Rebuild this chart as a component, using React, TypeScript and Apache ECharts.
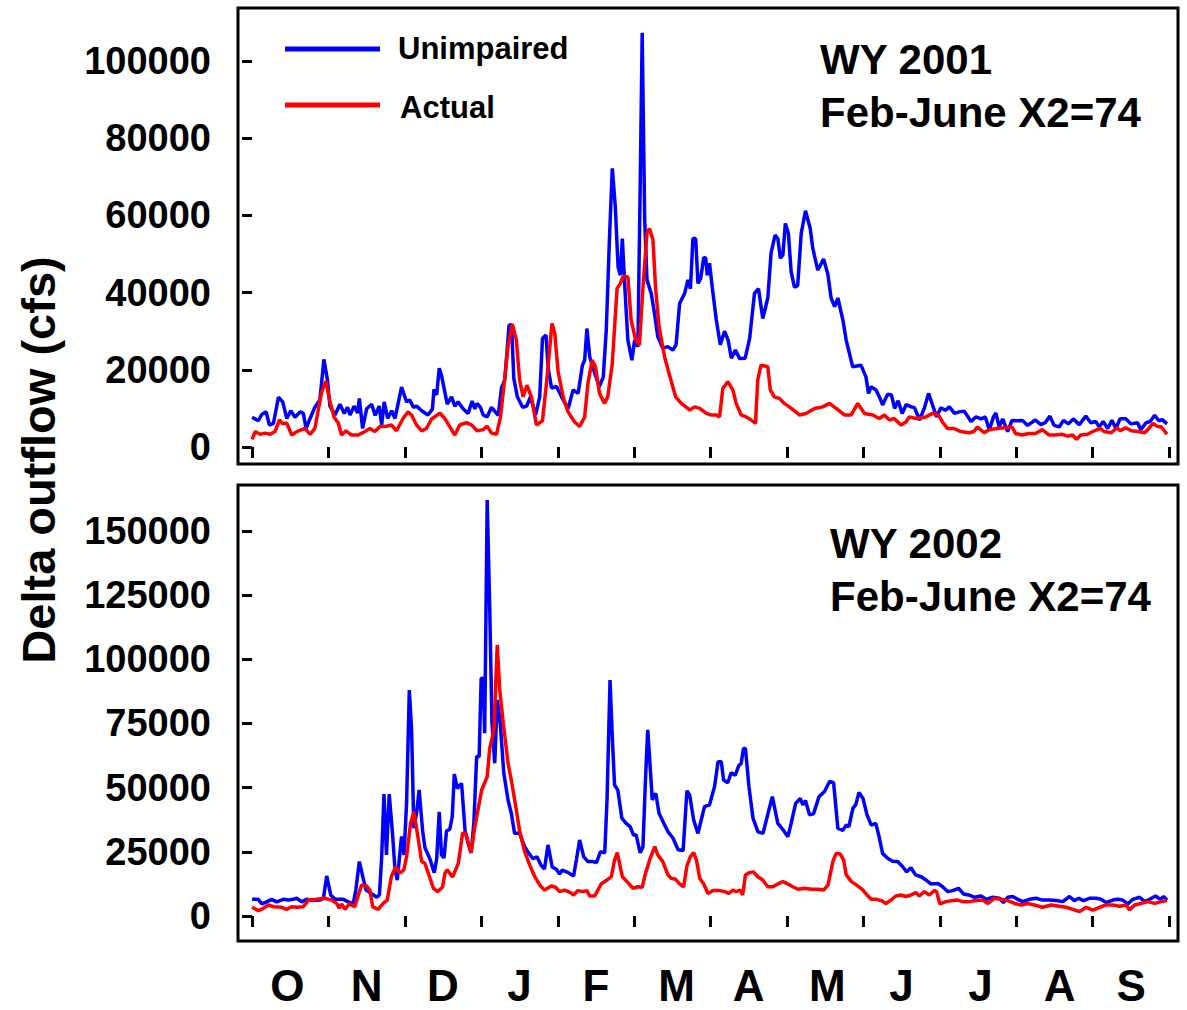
import React, { useEffect, useRef } from 'react';
import * as echarts from 'echarts';

// day of water year (0 = Oct 1) and delta outflow (cfs)
const unimpaired2001: [number, number][] = [
  [0, 7700], [2.5, 6800], [3.9, 8500], [5.6, 9100], [6.9, 5700], [8.5, 6100], [10.5, 12900], [12.2, 11700],
  [13.8, 7400], [15.4, 9400], [17.1, 7700], [19.1, 9100], [20.4, 8700], [21.5, 4800], [23.1, 7400], [25, 10300],
  [27, 12200], [28.6, 22700], [30, 17400], [31, 10600], [33, 8300], [35, 11100], [36.7, 8700], [38, 10300],
  [39, 8300], [40.6, 10600], [42, 8800], [42.7, 12600], [44, 4800], [45.6, 9900], [47.6, 11100], [49, 8200],
  [50.6, 10600], [51.6, 5700], [52.6, 11700], [54, 7400], [55.6, 9400], [56.9, 7400], [59.5, 15500], [61.5, 11700],
  [62.8, 12200], [64.2, 10300], [65.5, 10600], [67.5, 9400], [70, 8300], [71.8, 9800], [72.4, 14900], [73.5, 13500],
  [74.5, 20400], [75.4, 18600], [77.7, 11100], [79.4, 13000], [80.7, 10600], [82, 11700], [84, 9900], [86, 8700],
  [87.6, 11900], [88.7, 9900], [89.6, 11300], [90.9, 10300], [92, 8300], [93.6, 7800], [95.3, 10300], [98, 8200],
  [99.3, 15300], [100.6, 17400], [102.3, 31600], [103.3, 31600], [104.2, 17800], [105.6, 13000], [107.7, 10300],
  [109.3, 10600], [110.8, 13000], [112.9, 8300], [114.5, 13000], [115.6, 28100], [117, 29000], [117.9, 20400],
  [119.2, 15300], [121.2, 15700], [123.2, 13000], [125.8, 9900], [127.8, 14800], [129.8, 13900], [131.5, 21200],
  [132.4, 22500], [133.3, 30700], [134.4, 23400], [136.4, 19100], [138.2, 15600], [139.8, 18100], [141, 30300],
  [142.3, 54500], [143.4, 72200], [144.6, 62200], [145.7, 46700], [146.6, 44500], [147.4, 54000], [148.3, 42400],
  [149.6, 27700], [151.2, 22500], [152.3, 27700], [153.6, 26000], [154.5, 67400], [155.3, 107300], [156.3, 58800],
  [157.2, 43300], [158.9, 39800], [160.2, 34600], [161.5, 28600], [163.5, 25600], [165.5, 26000], [167.5, 25100],
  [168.8, 26500], [170.2, 37200], [172.2, 39800], [173.5, 43300], [174.5, 41000], [175.5, 54000], [176.6, 54000],
  [177.5, 42400], [178.6, 43700], [179.8, 49100], [180.6, 48900], [181.2, 44500], [182.1, 47600], [183.2, 41400],
  [184.8, 32900], [186.4, 26500], [188.1, 30000], [189.5, 27700], [190.8, 23000], [192.4, 25100], [194.1, 22900],
  [196.3, 23000], [198.1, 28200], [200, 39800], [201.6, 41000], [203.3, 33300], [205.3, 38600], [206.6, 50200],
  [208.2, 54900], [209.3, 54000], [210.3, 48900], [211.3, 49700], [212.3, 57900], [213.5, 55300], [214.6, 45400],
  [215.9, 41400], [217.2, 41800], [218.6, 55300], [220.3, 61200], [222.2, 56600], [223.2, 51500], [225.2, 45800],
  [227.5, 48700], [229.2, 44800], [230.5, 38600], [231.9, 36400], [233.2, 38600], [235.2, 32900], [236.5, 27700],
  [239.1, 20800], [242.4, 21200], [244.4, 18100], [245.4, 13900], [246.4, 15600], [248.4, 14800], [250, 12600],
  [251, 10900], [253, 13700], [254.5, 13500], [255.8, 10000], [257.2, 12000], [258.8, 8700], [260.4, 11000],
  [262.4, 10400], [263.7, 10200], [265.7, 7000], [267.7, 10200], [269.3, 13900], [270.6, 11400], [272.5, 7800],
  [274.2, 10200], [276, 9500], [277.6, 10400], [279.6, 8700], [281.5, 9100], [283.5, 9300], [286.2, 6600],
  [288.2, 7800], [290.2, 7300], [291.9, 7800], [293.5, 4400], [295.1, 7800], [296.1, 8800], [297.4, 5200],
  [298.8, 7300], [300.8, 4000], [302.5, 6900], [304.7, 6800], [306.7, 6900], [308.7, 5600], [311.8, 7000],
  [314, 5800], [315.7, 6300], [317.6, 8000], [319.3, 5600], [321.3, 5200], [323, 6900], [325, 6000], [326.9, 7300],
  [329.3, 5800], [331.9, 8000], [333.9, 6300], [335.9, 6600], [337.2, 5200], [338.8, 6600], [340.6, 4800],
  [342.3, 6900], [343.9, 4800], [345.5, 7300], [347.9, 7300], [349.8, 6000], [352.5, 6300], [353.8, 4500],
  [355.9, 6300], [357.5, 6600], [359.3, 8200], [361, 6800], [362.3, 7100], [364.2, 6000],
];

const actual2001: [number, number][] = [
  [0, 2000], [1.2, 4000], [3.2, 3300], [5.2, 3600], [7.2, 3300], [9.1, 4000], [10.9, 7000], [12.2, 6000],
  [13.8, 6200], [15.8, 3100], [17.8, 4000], [19.8, 4500], [21.1, 4800], [23.1, 3300], [25, 4800], [26.3, 9400],
  [27.7, 14200], [29.4, 17100], [30.7, 12600], [32.6, 7800], [34.3, 6200], [35.6, 3100], [37.4, 4200], [39.6, 3100],
  [42.2, 3100], [44.9, 4000], [46.9, 4800], [48.9, 4000], [50.9, 5300], [53.5, 5400], [55.5, 5700], [57.5, 4200],
  [60.1, 7400], [62.1, 9100], [63.5, 8300], [65.5, 5700], [67.5, 4200], [69.4, 4800], [71.4, 7200], [74.7, 8800],
  [76.7, 7400], [78.7, 5300], [80.7, 3100], [82.7, 5700], [85.4, 6300], [87.4, 5700], [89.6, 4200], [92, 4500],
  [93.6, 5400], [95.3, 3600], [97.3, 3300], [98.9, 7800], [100.2, 15500], [101.9, 26000], [103.6, 31900],
  [105.2, 27700], [106.5, 17400], [107.9, 13000], [109.4, 16000], [111.2, 13000], [113.2, 5700], [115.6, 6800],
  [117.2, 16500], [119.4, 32000], [120.5, 29500], [121.8, 19700], [123.8, 13000], [125.8, 9100], [128.4, 6500],
  [130.4, 5300], [132.4, 7800], [133.7, 16500], [135.4, 22500], [136.7, 20800], [138.3, 13900], [140.3, 11300],
  [141.6, 13000], [143.4, 21700], [145.3, 41100], [146.6, 42400], [147.6, 44100], [149.6, 44100], [150.9, 32900],
  [152.7, 27700], [154.2, 26400], [155.8, 43300], [157.2, 55300], [158.2, 56600], [159.6, 53600], [160.6, 41500],
  [162, 31200], [164.2, 23400], [166.2, 18600], [168.6, 13000], [170.9, 11300], [174.2, 9600], [176.2, 10400],
  [178.2, 10000], [180.8, 8700], [182.8, 8300], [184.8, 8300], [186.1, 7800], [187.4, 15200], [189.4, 16900],
  [191.4, 14800], [192.7, 11300], [194.7, 8300], [196.7, 7800], [198.7, 7000], [200.4, 6100], [201.3, 17400],
  [202.6, 21200], [205.3, 20800], [206.3, 14800], [207.9, 13000], [209.9, 12600], [211.9, 11300], [213.9, 10400],
  [217.9, 8300], [220.5, 8700], [223.9, 10000], [227.2, 10400], [229.8, 11300], [232.5, 10000], [235.8, 8300],
  [238.5, 8300], [241.1, 11300], [243.8, 8700], [247.1, 8300], [249.7, 7400], [251.7, 8300], [253.7, 7000],
  [255.6, 7400], [258.3, 5700], [260.3, 6500], [261.6, 7800], [264.3, 7400], [266.2, 7600], [268.2, 7800],
  [270.9, 8700], [273.2, 8300], [274.8, 6500], [276.8, 4800], [279.4, 4800], [282.1, 4000], [285.4, 3700],
  [287.4, 4000], [288.7, 5200], [291.4, 3700], [293.4, 4500], [296.7, 4800], [299.3, 5000], [302.6, 5200],
  [303.9, 3500], [306.6, 3100], [309.3, 3500], [311.9, 3500], [314.6, 4500], [317.3, 3100], [319.9, 3100],
  [322.6, 3300], [324.6, 2800], [326.6, 3100], [328.2, 2000], [329.9, 3100], [332.6, 3300], [335.3, 4200],
  [337.6, 4800], [339.3, 4000], [342, 3700], [344.3, 5000], [345.6, 4200], [347.7, 5000], [350, 4200],
  [352.6, 4000], [355.3, 3700], [356.6, 4500], [358.6, 6100], [360.2, 5400], [362, 5200], [364.2, 3300],
];

const unimpaired2002: [number, number][] = [
  [0, 6500], [2.5, 6500], [3.9, 4700], [5.8, 5500], [7.8, 6500], [9.8, 5500], [12.5, 6500], [14.5, 6200],
  [16.4, 6500], [17.8, 6900], [19.8, 5500], [21.7, 6500], [24.4, 6000], [27, 6200], [28.4, 6900], [29.7, 15600],
  [31.3, 8200], [33, 6500], [36.3, 6500], [38.3, 5500], [40.3, 4900], [41.3, 10100], [42.7, 21200], [44, 15600],
  [45.4, 10100], [47.6, 8700], [49.6, 7300], [50.7, 8200], [51.6, 23100], [52.5, 47500], [53.5, 23800],
  [54.6, 47500], [55.9, 32200], [56.9, 18100], [57.8, 14000], [59.5, 31000], [60.5, 23800], [61.5, 43900],
  [62.6, 88000], [63.5, 72500], [64.4, 34200], [65.5, 40200], [66.5, 49100], [67.9, 33100], [68.8, 26700],
  [70.8, 22200], [72.5, 16900], [73.5, 22200], [74.5, 40600], [75.4, 23800], [76.4, 22600], [77.4, 33100],
  [78.7, 33800], [79.7, 38700], [80.5, 55300], [81.7, 49700], [83.4, 51700], [84.8, 33100], [86.1, 27900],
  [87.2, 24600], [88.3, 36300], [89.4, 62100], [90.4, 62100], [91.2, 92600], [92, 92600], [92.6, 71200],
  [93.6, 162100], [94.6, 120500], [95.5, 75100], [96.6, 59500], [97.6, 84200], [98.8, 75100], [100.2, 55700],
  [101.9, 45200], [103.2, 40000], [104.5, 32200], [106.5, 32200], [108.5, 27000], [110.2, 24400], [111.8, 22300],
  [113.4, 23100], [115.1, 19700], [116.4, 18300], [117.8, 27700], [119.5, 19000], [121.1, 18300], [122.4, 16300],
  [123.4, 17900], [125.7, 17000], [128, 15600], [129.1, 21800], [130.4, 29600], [132, 23100], [133.7, 21200],
  [135.7, 21200], [137.1, 20800], [138.7, 25100], [140.4, 24600], [141.3, 45200], [142.5, 91900], [143.4, 69900],
  [144.3, 51000], [145.6, 49100], [147.2, 38100], [148.9, 36100], [150.5, 34800], [151.8, 31600], [152.9, 31600],
  [154.5, 24600], [155.6, 26900], [156.6, 53000], [157.5, 72500], [158.3, 60800], [159.3, 45200], [160.7, 47800],
  [162, 40000], [163.9, 36100], [165.6, 32800], [167.6, 30300], [169.6, 25800], [171.6, 25500], [173.1, 48800],
  [174.2, 47100], [175.8, 37400], [177.5, 32200], [178.8, 37400], [180.1, 42600], [182.1, 43300], [184.1, 50400],
  [185.5, 60100], [186.8, 60100], [187.7, 53000], [189.4, 51900], [190.7, 55800], [192.3, 54800], [193.8, 58700],
  [194.7, 59400], [195.6, 65300], [196.4, 65300], [197.8, 50400], [199.4, 38100], [201.4, 32800], [203.4, 32200],
  [205.4, 40000], [207.1, 46500], [209.3, 36100], [211.3, 33700], [213.3, 30900], [214.6, 36100], [216.4, 43900],
  [218.2, 45800], [219.3, 43300], [220.3, 45000], [221.9, 39400], [223.5, 39800], [225.7, 46500], [227.9, 48500],
  [229.9, 52400], [231.5, 51900], [233.2, 34100], [235.2, 33400], [236.5, 35400], [237.6, 34800], [239.2, 42000],
  [240.3, 43300], [241.6, 48100], [243.2, 45800], [244.8, 39400], [246.5, 35400], [248.3, 36100], [249.6, 30900],
  [251, 24400], [253, 22500], [255, 21300], [257, 21200], [259, 19200], [260.6, 17200], [262.3, 18800],
  [264.1, 16000], [266.3, 15300], [268.3, 14000], [270.3, 12500], [273, 12700], [274.9, 11400], [276.9, 9500],
  [278.9, 9900], [281.2, 10800], [283.2, 8600], [285.3, 8200], [287.6, 7300], [290.2, 7800], [292.2, 6500],
  [294.9, 7300], [297.5, 6900], [299.1, 5200], [300.8, 7300], [302.8, 7600], [304.8, 6500], [306.8, 5600],
  [309.4, 6500], [312.1, 6900], [314.7, 6200], [317.4, 6200], [320.1, 6000], [322.7, 5600], [325.4, 7600],
  [327.3, 6000], [329.1, 6900], [330.9, 6000], [333.3, 6900], [336, 6900], [338, 6500], [340, 5200], [342.6, 6200],
  [344.6, 6500], [346.6, 6200], [348.6, 4700], [350.6, 6500], [353.3, 7300], [355.3, 5600], [357.3, 6500],
  [359.7, 7800], [361.5, 6500], [362.9, 7600], [364.2, 6200],
];

const actual2002: [number, number][] = [
  [0, 3400], [2.5, 2100], [4.5, 3000], [6.5, 4300], [8.5, 3600], [11.8, 3400], [13.8, 2600], [15.8, 3600],
  [17.8, 3400], [20.4, 3600], [22.4, 6200], [25.7, 6500], [29, 6900], [31.7, 6200], [33.7, 4900], [34.7, 3000],
  [35.6, 4700], [37, 2600], [38.7, 4700], [40.9, 3600], [41.9, 6900], [43.6, 12100], [45.6, 11700], [46.9, 10100],
  [48, 3600], [50.2, 2600], [52.2, 4900], [53.8, 6200], [55.5, 15600], [57.2, 19200], [58.8, 16700], [60.4, 18000],
  [61.5, 23100], [63.1, 36100], [64.4, 40600], [65.8, 32200], [67.5, 21200], [68.8, 20500], [70.6, 15400],
  [72.2, 10800], [73.8, 9500], [75.8, 11200], [76.8, 16700], [77.7, 18000], [79.8, 15200], [82.1, 20500],
  [83.8, 32200], [85.1, 32200], [87.2, 24600], [88.7, 34800], [91.4, 49100], [93.6, 54300], [94.6, 65300],
  [96.3, 72500], [97.6, 105600], [98.6, 88000], [100, 75100], [101.9, 59500], [103.2, 53000], [105.2, 41300],
  [106.5, 33100], [108.5, 25200], [110.5, 19900], [112.5, 15400], [114.5, 12100], [116.4, 10100], [119.1, 11700],
  [120.8, 11200], [122.4, 9500], [124.4, 10100], [126.4, 9300], [128, 8200], [129.7, 9900], [131.7, 9500],
  [133.3, 9900], [134.4, 7800], [136.4, 7800], [139, 12500], [141, 13800], [143, 15300], [144.3, 21800],
  [145.4, 24700], [146.3, 20300], [147.4, 15300], [149.6, 13000], [151.6, 10800], [153.6, 11400], [155.3, 11200],
  [156.6, 16600], [158.5, 22500], [160.3, 27000], [161.5, 23800], [163.5, 21200], [165.5, 16100], [166.8, 14700],
  [168.6, 14300], [170.2, 12500], [171.8, 11400], [173.1, 19500], [174.5, 23100], [175.8, 24700], [176.9, 21800],
  [178.2, 14700], [179.8, 12500], [181.5, 8800], [183.5, 9900], [186.1, 9900], [188.1, 9500], [189.8, 8800],
  [191.4, 10100], [192.7, 9500], [194.3, 10100], [195.3, 8200], [196.4, 16000], [198, 16900], [199.6, 17200],
  [201.3, 15300], [203.3, 14000], [205.3, 11400], [207.3, 11400], [209.3, 12500], [211.3, 13400], [213.3, 12500],
  [215.3, 11400], [217.3, 10400], [220, 10800], [222.6, 10400], [225.3, 10400], [227.5, 10100], [229.3, 12100],
  [231.2, 21200], [232.5, 24400], [234.1, 24200], [235.5, 21800], [236.5, 16100], [238.5, 13500], [240.5, 12100],
  [242.9, 10400], [244.8, 8200], [246.5, 6500], [248.5, 6500], [250.5, 6000], [252.3, 4900], [254.3, 6200],
  [256.3, 7800], [258.3, 8200], [260.3, 7600], [262.3, 8200], [264.3, 9100], [265.6, 7800], [267.6, 9500],
  [269.6, 8200], [271.6, 9900], [272.5, 9500], [273.8, 4700], [276.2, 5600], [278.9, 6000], [280.9, 6200],
  [282.9, 5600], [285.5, 5600], [288.2, 6000], [290.9, 6200], [292.9, 4900], [295.5, 6900], [298.2, 6500],
  [300.8, 6000], [303.5, 4900], [306.1, 4300], [308.8, 4900], [311.4, 4300], [314.7, 3400], [318.1, 4300],
  [321.4, 3800], [324.1, 3400], [326.7, 2600], [329.4, 1700], [332, 3400], [334.7, 2300], [337.4, 3400],
  [340, 4300], [342.6, 4300], [345.3, 3800], [348, 4300], [349.3, 2300], [351.3, 4300], [354, 4900], [356.6, 5600],
  [359.3, 4900], [362, 5600], [364.2, 6000],
];

const monthStarts = [0, 30.4, 60.8, 91.3, 121.7, 152.1, 182.5, 212.9, 243.3, 273.8, 304.2, 334.6, 365];
const monthMids = [14, 45.6, 76, 106.5, 136.9, 169, 197.7, 229, 258.5, 290, 321.5, 350];
const monthLetters = ['O', 'N', 'D', 'J', 'F', 'M', 'A', 'M', 'J', 'J', 'A', 'S'];

const ticks2001 = [0, 20000, 40000, 60000, 80000, 100000];
const ticks2002 = [0, 25000, 50000, 75000, 100000, 125000, 150000];

const FONT = '"Liberation Sans", Arial, Helvetica, sans-serif';
const BLUE = '#0000ff';
const RED = '#ff0000';

function xAxisFor(gridIndex: number, showLabels: boolean): any {
  return {
    type: 'value',
    gridIndex,
    min: -5.6,
    max: 368.6,
    axisLine: { show: false },
    splitLine: { show: false },
    axisTick: {
      show: true,
      customValues: monthStarts,
      length: 11,
      lineStyle: { color: '#000', width: 3 },
    },
    axisLabel: {
      show: showLabels,
      customValues: monthMids,
      formatter: (v: number) => monthLetters[monthMids.indexOf(v)] ?? '',
      color: '#000',
      fontFamily: FONT,
      fontWeight: 'bold',
      fontSize: 44,
      lineHeight: 44,
      margin: 22,
    },
  };
}

function yAxisFor(gridIndex: number, min: number, max: number, ticks: number[]): any {
  return {
    type: 'value',
    gridIndex,
    min,
    max,
    axisLine: { show: false },
    splitLine: { show: false },
    axisTick: {
      show: true,
      customValues: ticks,
      length: 10,
      lineStyle: { color: '#000', width: 3 },
    },
    axisLabel: {
      customValues: ticks,
      formatter: (v: number) => String(v),
      color: '#000',
      fontFamily: FONT,
      fontWeight: 'bold',
      fontSize: 38,
      margin: 27,
    },
  };
}

function textEl(text: string, x: number, y: number, fontSize: number, extra: any = {}): any {
  return {
    type: 'text',
    x,
    y,
    ...extra,
    style: {
      text,
      fill: '#000',
      font: `bold ${fontSize}px ${FONT}`,
      textAlign: extra.textAlign ?? 'left',
      textVerticalAlign: 'middle',
    },
  };
}

export default function App() {
  const elRef = useRef<HTMLDivElement | null>(null);

  useEffect(() => {
    if (!elRef.current) return;
    const chart = echarts.init(elRef.current, null, { renderer: 'svg' });

    const grid = (top: number) => ({
      left: 238,
      top,
      width: 940,
      height: 456,
      show: true,
      borderColor: '#000',
      borderWidth: 3,
      backgroundColor: 'transparent',
    });

    const lineSeries = (name: string, idx: number, data: [number, number][], color: string) => ({
      name,
      type: 'line',
      xAxisIndex: idx,
      yAxisIndex: idx,
      data,
      showSymbol: false,
      symbol: 'none',
      lineStyle: { color, width: 3.5 },
      itemStyle: { color },
      z: color === RED ? 3 : 2,
    });

    const opt: echarts.EChartsOption = {
      animation: false,
      backgroundColor: '#fff',
      grid: [grid(8), grid(485)],
      xAxis: [xAxisFor(0, false), xAxisFor(1, true)],
      yAxis: [yAxisFor(0, -4400, 113730, ticks2001), yAxisFor(1, -9740, 167920, ticks2002)],
      series: [
        lineSeries('Unimpaired', 0, unimpaired2001, BLUE),
        lineSeries('Actual', 0, actual2001, RED),
        lineSeries('Unimpaired', 1, unimpaired2002, BLUE),
        lineSeries('Actual', 1, actual2002, RED),
      ] as any,
      graphic: [
        textEl('Delta outflow (cfs)', 38, 460, 47, { rotation: Math.PI / 2, textAlign: 'center' }),
        {
          type: 'line',
          shape: { x1: 285, y1: 49, x2: 380, y2: 49 },
          style: { stroke: BLUE, lineWidth: 5 },
        },
        {
          type: 'line',
          shape: { x1: 285, y1: 105, x2: 380, y2: 105 },
          style: { stroke: RED, lineWidth: 5 },
        },
        textEl('Unimpaired', 398, 48, 31),
        textEl('Actual', 400, 107, 31),
        textEl('WY 2001', 820, 59, 42),
        textEl('Feb-June X2=74', 820, 112, 42),
        textEl('WY 2002', 830, 543, 42),
        textEl('Feb-June X2=74', 830, 596, 42),
      ],
    };

    chart.setOption(opt);
    return () => {
      chart.dispose();
    };
  }, []);

  return (
    <div
      ref={elRef}
      style={{ position: 'absolute', left: 0, top: 0, width: 1187, height: 1010, background: '#fff' }}
    />
  );
}
